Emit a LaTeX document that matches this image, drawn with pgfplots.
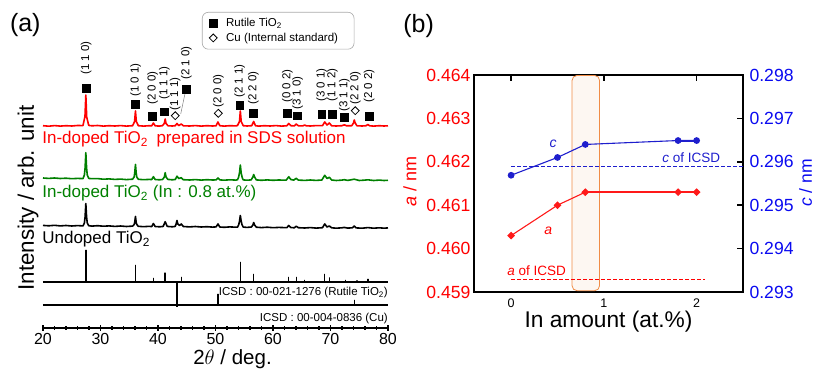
\documentclass[border=0pt]{standalone}
\usepackage{pgfplots}
\pgfplotsset{compat=1.18}
\usepackage{fontspec}
\setmainfont{Liberation Sans}
\definecolor{xgreen}{RGB}{0,128,0}
\definecolor{xred}{RGB}{255,0,0}
\definecolor{lred}{RGB}{255,25,25}
\definecolor{bline}{RGB}{30,30,205}
\definecolor{btext}{RGB}{10,10,240}
\definecolor{orng}{RGB}{240,140,70}
\definecolor{peach}{RGB}{253,247,242}
\newcommand{\fs}[1]{\fontsize{#1}{#1}\selectfont}
\newcommand{\hkl}[3]{\node[rotate=90, anchor=west, inner sep=0pt, font=\fs{11.5}] at (axis cs:#1,#2) {#3};}
\begin{document}
\begin{tikzpicture}
\path[use as bounding box] (-43pt,-47pt) rectangle (772pt,328pt);
% ---------------- panel (a)
\begin{axis}[
 at={(0pt,0pt)}, anchor=south west, width=345pt, height=320pt, scale only axis,
 xmin=20, xmax=80, ymin=0, ymax=320,
 axis x line*=bottom, axis y line=none,
 xtick={20,30,...,80}, minor x tick num=4,
 tick align=center, major tick length=6pt, minor tick length=4pt,
 x axis line style={line width=1.5pt},
 every tick/.style={black, line width=1.2pt},
 xticklabel style={font=\fs{16}, yshift=1pt},
 /pgf/number format/assume math mode=true,
 clip=false,
 legend cell align=left,
 legend style={at={(0.4608,0.9875)}, anchor=north west, draw={rgb,255:red,170;green,170;blue,170}, line width=0.6pt, rounded corners=6pt, inner xsep=7pt, inner ysep=4pt, font=\fs{11.5}, nodes={inner xsep=9pt, inner ysep=2.3pt}, row sep=0pt},
]
\addplot[only marks, mark=square*, mark size=3.9pt, black] coordinates {(27.5,240) (36.1,223.7) (39.05,212) (41.1,216.3) (44.9,238.7) (54.2,223) (56.57,214.7) (62.49,214.7) (64.25,212.3) (68.47,213.7) (70.31,213.7) (72.4,210.7) (76.72,212)};
\addlegendentry{Rutile TiO\textsubscript{2}}
\addplot[only marks, mark=square, mark size=2.8pt, mark options={rotate=45, line width=0.8pt}, black] coordinates {(43.0,212.3) (50.49,214.7) (74.3,217.3)};
\addlegendentry{Cu (Internal standard)}
% leader line for (210)
\draw[gray, line width=0.5pt] (axis cs:44.7,234.5) -- (axis cs:43.95,214);
% hkl labels
\hkl{27.5}{253}{(1 1 0)}
\hkl{36.1}{231}{(1 0 1)}
\hkl{39.05}{223}{(2 0 0)}
\hkl{41.1}{228}{(1 1 1)}
\hkl{43.0}{217}{(1 1 1)}
\hkl{44.95}{248}{(2 1 0)}
\hkl{50.49}{220}{(2 0 0)}
\hkl{54.2}{230}{(2 1 1)}
\hkl{56.57}{223}{(2 2 0)}
\hkl{62.49}{225}{(0 0 2)}
\hkl{64.28}{218}{(3 1 0)}
\hkl{68.47}{226}{(3 0 1)}
\hkl{70.31}{226}{(1 1 2)}
\hkl{72.4}{216}{(3 1 1)}
\hkl{74.35}{223}{(2 2 0)}
\hkl{76.72}{225}{(2 0 2)}
% red trace
\addplot[forget plot, xred, line width=1.6pt, line join=round] coordinates {
(20,202.3) (21,201.8) (22,202.4) (23,201.9) (24,202.3) (25,202.0) (26,202.5) (26.95,202.4) (27.3,211.5) (27.45,233) (27.6,211) (27.95,202.6)
(28.5,202.2) (29.5,202.5) (30.5,201.9) (31.5,202.3) (32.5,202.0) (33.5,202.4) (34.5,201.9) (35.58,202.3) (35.93,206.5) (36.08,217) (36.23,206.5) (36.58,202.3)
(37.5,201.9) (38.5,202.3) (38.9,202.1) (39.2,205) (39.5,202.2) (40.2,201.9) (40.75,202.3) (41.1,204.5) (41.25,209) (41.4,204.5) (41.75,202.2)
(42.5,202.0) (43.0,202.3) (43.3,204.5) (43.6,202.4) (44.05,204) (44.4,202.2) (45.5,202.0) (46.5,202.4) (47.5,201.9) (48.5,202.3) (49.5,202.0)
(50.1,202.2) (50.43,206) (50.75,202.3) (51.5,201.9) (52.5,202.3) (53.5,202.1) (53.82,202.4) (54.17,206.5) (54.32,217) (54.47,206.5) (54.82,202.3)
(55.5,202.0) (56.3,202.3) (56.64,206.5) (56.95,202.3) (57.5,201.9) (58.5,202.3) (59.5,202.0) (60.5,202.4) (61.5,201.9) (62.4,202.2) (62.74,204.5) (63.1,202.3)
(63.7,202.1) (64.04,204) (64.4,202.2) (65.2,202.1) (65.5,203) (65.8,202.2) (66.5,202.0) (67.5,202.4) (68.6,202.3) (69.0,206) (69.4,203) (69.8,205) (70.2,202.2)
(71,202.0) (72,202.3) (72.4,203.2) (72.8,202.2) (73.7,202.3) (74.0,205) (74.13,208) (74.3,205) (74.6,202.2) (75.5,202.0) (76.2,202.3) (76.5,203.5) (76.8,202.2)
(77.5,201.9) (78.5,202.3) (79.3,202.0) (80,202.2)};
% green trace
\addplot[forget plot, xgreen, line width=1.6pt, line join=round] coordinates {
(20,150.0) (21,149.6) (22,150.0) (23,149.5) (24,149.8) (25,149.3) (26,149.6) (26.95,149.4) (27.2,153) (27.32,160) (27.45,175.3) (27.58,160) (27.7,153) (27.95,149.6)
(28.5,149.3) (29.5,149.4) (30.5,148.8) (31.5,149.1) (32.5,148.6) (33.5,148.9) (34.5,148.4) (35.58,148.8) (35.85,151) (35.95,155) (36.08,163.5) (36.21,155) (36.31,151) (36.58,148.7)
(37.5,148.3) (38.5,148.6) (38.9,148.4) (39.2,151.3) (39.5,148.5) (40.2,148.2) (40.8,148.5) (41.1,151) (41.25,155.3) (41.4,151) (41.7,148.6)
(42.5,148.2) (43.0,148.5) (43.3,151.8) (43.6,149.5) (44.05,150.3) (44.4,148.3) (45.5,148.0) (46.5,148.4) (47.5,147.9) (48.5,148.3) (49.5,148.0)
(50.1,148.1) (50.43,150) (50.75,148.1) (51.5,147.8) (52.5,148.2) (53.5,147.9) (53.82,148.2) (54.0,150.5) (54.17,155) (54.32,163) (54.47,155) (54.64,150.5) (54.82,148.1)
(55.5,147.8) (56.2,148.1) (56.5,151) (56.64,153.5) (56.8,151) (57.1,148.1) (58,147.7) (59,148.1) (60,147.7) (61,148.0) (62.3,147.8) (62.74,151.2) (63.1,148.5)
(63.6,147.9) (64.04,149.7) (64.4,147.9) (65.5,147.6) (66.5,148.0) (67.5,147.6) (68.5,148.0) (69.0,152.7) (69.4,149.5) (69.8,150.7) (70.2,148.0)
(71,147.5) (72,147.9) (72.4,148.3) (73,147.6) (74.13,148.8) (75,147.5) (76,147.9) (76.5,148.2) (77.5,147.5) (78.5,147.9) (79.3,147.5) (80,147.7)};
% black trace
\addplot[forget plot, black, line width=1.6pt, line join=round] coordinates {
(20,102.6) (21,102.2) (22,102.7) (23,102.1) (24,102.5) (25,102.0) (26,102.4) (26.95,102.1) (27.2,105) (27.32,111) (27.45,124.5) (27.58,111) (27.7,105) (27.95,102.3)
(28.5,101.9) (29.5,102.3) (30.5,101.8) (31.5,102.1) (32.5,101.6) (33.5,102.0) (34.5,101.5) (35.58,101.9) (35.85,103.5) (35.95,105.5) (36.08,111.5) (36.21,105.5) (36.31,103.5) (36.58,101.7)
(37.5,101.3) (38.5,101.7) (38.9,101.4) (39.2,104.5) (39.5,101.5) (40.3,101.2) (40.9,101.6) (41.25,106.3) (41.6,101.6) (42.5,101.2) (43.0,101.6) (43.15,104) (43.3,107.5) (43.45,104) (43.75,102.5) (44.05,104) (44.4,101.5)
(45.5,101.1) (46.5,101.5) (47.5,101.0) (48.5,101.3) (49.5,100.9) (50.1,101.1) (50.43,104) (50.75,101.0) (51.5,100.7) (52.5,101.1) (53.5,100.8) (53.85,101.0) (54.05,103.5) (54.18,107) (54.32,112.5) (54.46,107) (54.6,103.5) (54.82,100.9)
(55.5,100.6) (56.25,101.0) (56.5,103) (56.64,105.5) (56.8,103) (57.1,100.8) (58,100.4) (59,100.8) (60,100.3) (61,100.6) (62.4,100.3) (62.74,102.5) (63.1,100.5) (63.7,100.2) (64.04,101.8) (64.4,100.3)
(65.5,100.0) (66.5,100.4) (67.5,99.9) (68.6,100.3) (69.0,104) (69.4,101) (69.8,102) (70.2,100.2) (71,99.8) (72,100.2) (72.4,100.6) (73,99.9) (73.8,100.2) (74.13,102) (74.45,100.1)
(75.5,99.8) (76.5,100.4) (77.5,99.8) (78.5,100.2) (79.3,99.8) (80,100.1)};
% rutile reference sticks
\addplot[forget plot, black, line width=1.4pt, line join=bevel] coordinates {
(20,46) (27.45,46) (27.45,78) (27.45,46) (36.08,46) (36.08,63) (36.08,46) (39.2,46) (39.2,50) (39.2,46) (41.25,46) (41.25,55.3) (41.25,46)
(44.05,46) (44.05,51) (44.05,46) (54.32,46) (54.32,66) (54.32,46) (56.64,46) (56.64,54) (56.64,46) (62.74,46) (62.74,51) (62.74,46)
(64.04,46) (64.04,51) (64.04,46) (65.5,46) (65.5,48) (65.5,46) (69.0,46) (69.0,54) (69.0,46) (69.8,46) (69.8,50.5) (69.8,46)
(72.6,46) (72.6,48) (72.6,46) (74.6,46) (74.6,47.5) (74.6,46) (76.55,46) (76.55,49) (76.55,46) (80,46)};
% Cu reference sticks
\addplot[forget plot, black, line width=1.4pt, line join=bevel] coordinates {
(20,23) (43.3,23) (43.3,46) (43.3,21) (43.3,23) (50.43,23) (50.43,34) (50.43,23) (74.13,23) (74.13,28) (74.13,23) (80,23)};
% texts
\node[anchor=west, inner sep=0pt, text=xred, font=\fs{17}] at (axis cs:19.85,188.5) {In-doped TiO\textsubscript{2}\hspace{0.5em}prepared in SDS solution};
\node[anchor=west, inner sep=0pt, text=xgreen, font=\fs{17}] at (axis cs:19.85,134.5) {In-doped TiO\textsubscript{2} (In : 0.8 at.\%)};
\node[anchor=west, inner sep=0pt, font=\fs{17}] at (axis cs:19.85,88.5) {Undoped TiO\textsubscript{2}};
\node[anchor=east, inner sep=0pt, font=\fs{11.5}] at (axis cs:80,35) {ICSD : 00-021-1276 (Rutile TiO\textsubscript{2})};
\node[anchor=east, inner sep=0pt, font=\fs{11.5}] at (axis cs:80,9) {ICSD : 00-004-0836 (Cu)};
\node[font=\fs{25}, inner sep=0pt] at (axis cs:16.92,303) {(a)};
\node[rotate=90, font=\fs{22.4}, inner sep=0pt] at (axis cs:17.4,130) {Intensity / arb. unit};
\node[font=\fs{20.5}, inner sep=0pt] at (axis cs:52.96,-31) {2$\theta$ / deg.};
\end{axis}
% ---------------- panel (b): a axis
\begin{axis}[
 at={(431pt,36pt)}, anchor=south west, width=269pt, height=217pt, scale only axis,
 xmin=-0.4, xmax=2.5, ymin=0.459, ymax=0.464,
 xtick={0,1,2}, xtick pos=top, xticklabel pos=bottom,
 ytick={0.459,0.46,0.461,0.462,0.463,0.464}, ytick pos=left,
 tick align=inside, major tick length=6pt,
 axis line style={line width=2pt},
 xtick style={line width=1.5pt, black},
 ytick style={draw=none},
 xticklabel style={font=\fs{12.5}, yshift=-3pt},
 yticklabel style={font=\fs{17.6}, text=xred, /pgf/number format/.cd, fixed, fixed zerofill, precision=3},
 /pgf/number format/assume math mode=true,
 clip=false,
]
\draw[orng, line width=0.8pt, fill=peach, rounded corners=5pt] (axis cs:0.657,0.45903) rectangle (axis cs:0.954,0.46399);
\addplot[xred, line width=0.9pt, dash pattern=on 3.5pt off 2.5pt] coordinates {(0,0.45928) (2.09,0.45928)};
\addplot[lred, line width=1.1pt, mark=square*, mark size=2.2pt, mark options={rotate=45, solid}] coordinates {(0,0.4603) (0.5,0.4610) (0.8,0.4613) (1.8,0.4613) (2,0.4613)};
\addplot[lred, line width=2pt] coordinates {(0.8,0.4613) (1.8,0.4613) (2,0.4613)};
\node[text=xred, font=\fs{14}\itshape, inner sep=0pt] at (axis cs:0.40,0.46042) {a};
\node[text=xred, font=\fs{13.5}, inner sep=0pt] at (axis cs:0.275,0.4595) {\textit{a} of ICSD};
\node[rotate=90, text=xred, font=\fs{18}, inner sep=0pt] at (axis description cs:-0.238,0.507) {\textit{a} / nm};
\node[font=\fs{22.7}, inner sep=0pt] at (axis description cs:0.5,-0.138) {In amount (at.\%)};
\node[font=\fs{25}, inner sep=0pt] at (axis description cs:-0.206,1.226) {(b)};
\end{axis}
% ---------------- panel (b): c axis
\begin{axis}[
 at={(431pt,36pt)}, anchor=south west, width=269pt, height=217pt, scale only axis,
 xmin=-0.4, xmax=2.5, ymin=0.293, ymax=0.298,
 axis x line=none, axis y line*=right,
 ytick={0.293,0.294,0.295,0.296,0.297,0.298}, ytick pos=right, yticklabel pos=right,
 tick align=inside, major tick length=6pt,
 y axis line style={line width=2pt},
 ytick style={line width=1.5pt, black},
 yticklabel style={font=\fs{17.6}, text=btext, xshift=3pt, /pgf/number format/.cd, fixed, fixed zerofill, precision=3},
 /pgf/number format/assume math mode=true,
 clip=false,
]
\addplot[bline, line width=0.9pt, dash pattern=on 3.5pt off 2.5pt] coordinates {(0,0.29589) (2.5,0.29589)};
\addplot[bline, line width=1.1pt, mark=*, mark size=2.8pt, mark options={solid}] coordinates {(0,0.29569) (0.5,0.2961) (0.8,0.2964) (1.8,0.29649) (2,0.29649)};
\addplot[bline, line width=2pt] coordinates {(1.8,0.29649) (2,0.29649)};
\node[text=bline, font=\fs{14}\itshape, inner sep=0pt] at (axis cs:0.453,0.29642) {c};
\node[text=bline, font=\fs{13.5}, inner sep=0pt] at (axis cs:1.943,0.2961) {\textit{c} of ICSD};
\node[rotate=90, text=btext, font=\fs{17.5}, inner sep=0pt] at (axis description cs:1.233,0.502) {\textit{c} / nm};
\end{axis}
\end{tikzpicture}
\end{document}
